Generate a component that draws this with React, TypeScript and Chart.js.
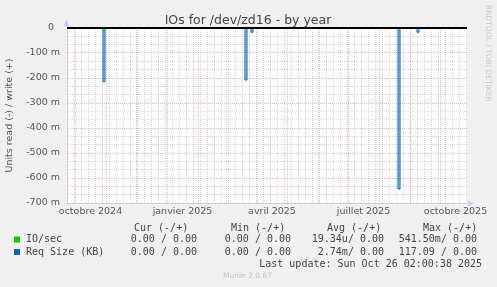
import React, { useEffect, useRef } from 'react';
import { Chart, registerables } from 'chart.js';

Chart.register(...registerables);

// ---- data (x = days since Mon 23 Sep 2024, y = units, negative = read) ----
const ZERO_DAYS = [0, 400];
const ZERO_VALUES = [0, 0];

const REQ_DAYS = [0, 36, 38, 178, 180, 184, 186, 331, 333, 350, 352, 400];
const REQ_READ = [0, -0.215, 0, -0.208, 0, -0.017, 0, -0.644, 0, -0.017, 0, 0];

const IO_DAYS = [0, 36, 38, 400];
const IO_READ = [0, -0.008, 0, 0];

// ---- axis ticks ----
const MONTH_START_DAYS = [8, 39, 69, 100, 131, 159, 190, 220, 251, 281, 312, 343, 373];
const X_LABEL_DAYS = [23.5, 115.5, 205, 296.5, 388.5];
const X_LABELS = ['octobre 2024', 'janvier 2025', 'avril 2025', 'juillet 2025', 'octobre 2025'];
const WEEK_STEP = 7;

const Y_MIN = -0.7;
const Y_MAX = 0;
const Y_MINOR_PER_MAJOR = 3;
const Y_LABELS = ['-700 m', '-600 m', '-500 m', '-400 m', '-300 m', '-200 m', '-100 m', '0  '];

// ---- legend ----
const LEGEND_NAMES = ['IO/sec', 'Req Size (KB)'];
const LEGEND_COLORS = ['#00cc00', '#0066b3'];
const LEGEND_HEADERS = ['Cur (-/+)', 'Min (-/+)', 'Avg (-/+)', 'Max (-/+)'];
const CUR_VALUES = ['0.00 / 0.00', '0.00 / 0.00'];
const MIN_VALUES = ['0.00 / 0.00', '0.00 / 0.00'];
const AVG_VALUES = ['19.34u/ 0.00', '2.74m/ 0.00'];
const MAX_VALUES = ['541.50m/ 0.00', '117.09 / 0.00'];
const LAST_UPDATE = 'Last update: Sun Oct 26 02:00:38 2025';

const TITLE = 'IOs for /dev/zd16 - by year';
const Y_TITLE = 'Units read (-) / write (+)';
const SIDE_TEXT = 'RRDTOOL / TOBI OETIKER';
const FOOTER = 'Munin 2.0.67';

const AXIS_COLOR = '#c4cbf6';
const MAJOR_GRID = 'rgba(225, 90, 90, 0.42)';
const MINOR_GRID = 'rgba(140, 140, 140, 0.35)';
const SANS = 'DejaVu Sans';
const MONO = 'DejaVu Sans Mono';

type XTick = { value: number; kind: 'week' | 'month' | 'label'; label: string };

function buildXTicks(): XTick[] {
  const list: XTick[] = [];
  for (let d = 0; d <= 400; d += WEEK_STEP) list.push({ value: d, kind: 'week', label: '' });
  MONTH_START_DAYS.forEach((d) => list.push({ value: d, kind: 'month', label: '' }));
  X_LABEL_DAYS.forEach((d, i) => list.push({ value: d, kind: 'label', label: X_LABELS[i] }));
  list.sort((a, b) => a.value - b.value);
  return list;
}

function buildYTicks(): number[] {
  const n = Y_LABELS.length - 1;
  const vals: number[] = [];
  for (let i = 0; i <= n * Y_MINOR_PER_MAJOR; i++) {
    vals.push(Y_MIN + (i * (Y_MAX - Y_MIN)) / (n * Y_MINOR_PER_MAJOR));
  }
  return vals;
}

const xy = (xs: number[], ys: number[]) => xs.map((x, i) => ({ x, y: ys[i] }));

export default function App() {
  const ref = useRef<HTMLCanvasElement | null>(null);

  useEffect(() => {
    if (!ref.current) return;
    const xTicks = buildXTicks();
    const yTicks = buildYTicks();

    const decor = {
      id: 'decor',
      beforeDraw(chart: any) {
        const { ctx, chartArea: a } = chart;
        ctx.save();
        ctx.fillStyle = '#ffffff';
        ctx.fillRect(a.left, a.top, a.right - a.left, a.bottom - a.top);
        ctx.restore();
      },
      afterDraw(chart: any) {
        const { ctx, chartArea: a } = chart;
        ctx.save();
        // axis arrows
        ctx.fillStyle = AXIS_COLOR;
        ctx.strokeStyle = AXIS_COLOR;
        ctx.lineWidth = 1;
        ctx.beginPath();
        ctx.moveTo(a.left - 0.5, a.top - 1);
        ctx.lineTo(a.left - 0.5, a.top - 5);
        ctx.moveTo(a.right, a.bottom + 0.5);
        ctx.lineTo(a.right + 3, a.bottom + 0.5);
        ctx.stroke();
        ctx.beginPath();
        ctx.moveTo(a.left - 3.5, a.top - 2);
        ctx.lineTo(a.left + 2.5, a.top - 2);
        ctx.lineTo(a.left - 0.5, a.top - 8);
        ctx.closePath();
        ctx.fill();
        ctx.beginPath();
        ctx.moveTo(a.right + 1, a.bottom - 2.5);
        ctx.lineTo(a.right + 1, a.bottom + 3.5);
        ctx.lineTo(a.right + 7, a.bottom + 0.5);
        ctx.closePath();
        ctx.fill();

        // title
        ctx.fillStyle = '#444';
        ctx.font = `12.5px "${SANS}"`;
        ctx.textAlign = 'center';
        ctx.textBaseline = 'alphabetic';
        ctx.fillText(TITLE, 248, 24);

        // y title
        ctx.save();
        ctx.translate(10, 115.5);
        ctx.rotate(-Math.PI / 2);
        ctx.font = `9.5px "${SANS}"`;
        ctx.fillStyle = '#555';
        ctx.textAlign = 'center';
        ctx.textBaseline = 'middle';
        ctx.fillText(Y_TITLE, 0, 0);
        ctx.restore();

        // side text
        ctx.save();
        ctx.translate(487.5, 5);
        ctx.rotate(Math.PI / 2);
        ctx.font = `7.5px "${SANS}"`;
        ctx.fillStyle = '#c8c8c8';
        ctx.textAlign = 'left';
        ctx.textBaseline = 'middle';
        ctx.fillText(SIDE_TEXT, 0, 0);
        ctx.restore();

        // legend
        ctx.font = `10px "${MONO}"`;
        ctx.fillStyle = '#444';
        ctx.textBaseline = 'middle';
        ctx.textAlign = 'left';
        const headerX = [134, 231, 327, 423];
        LEGEND_HEADERS.forEach((h, i) => ctx.fillText(h, headerX[i], 228));
        const rowY = [239.5, 252];
        const cols = [CUR_VALUES, MIN_VALUES, AVG_VALUES, MAX_VALUES];
        const colRight = [197, 291, 384, 477];
        LEGEND_NAMES.forEach((name, r) => {
          ctx.fillStyle = LEGEND_COLORS[r];
          ctx.fillRect(14, rowY[r] - 3, 6, 6);
          ctx.fillStyle = '#444';
          ctx.textAlign = 'left';
          ctx.fillText(name, 26, rowY[r]);
          ctx.textAlign = 'right';
          cols.forEach((c, ci) => ctx.fillText(c[r], colRight[ci], rowY[r]));
        });
        ctx.textAlign = 'right';
        ctx.fillText(LAST_UPDATE, 482, 264.5);

        // footer
        ctx.font = `7.5px "${SANS}"`;
        ctx.fillStyle = '#c4c4c4';
        ctx.textAlign = 'center';
        ctx.fillText(FOOTER, 247.5, 276);
        ctx.restore();
      },
    };

    const chart = new Chart(ref.current, {
      type: 'line',
      data: {
        datasets: [
          {
            label: 'zero',
            data: xy(ZERO_DAYS, ZERO_VALUES),
            borderColor: '#000000',
            borderWidth: 2,
            pointRadius: 0,
            fill: false,
            clip: false,
            order: -1,
          },
          {
            label: 'IO/sec',
            data: xy(IO_DAYS, IO_READ),
            borderColor: '#00cc00',
            backgroundColor: 'rgba(0,204,0,0.5)',
            borderWidth: 1,
            pointRadius: 0,
            stepped: true,
            fill: 'origin',
          },
          {
            label: 'Req Size (KB)',
            data: xy(REQ_DAYS, REQ_READ),
            borderColor: '#0066b3',
            backgroundColor: 'rgba(0,102,179,0.3)',
            borderWidth: 1,
            pointRadius: 0,
            stepped: true,
            fill: 'origin',
          },
        ],
      },
      options: {
        responsive: false,
        animation: false,
        devicePixelRatio: 1,
        layout: { padding: { left: 0, top: 28, right: 30, bottom: 70 } },
        plugins: {
          legend: { display: false },
          tooltip: { enabled: false },
          title: { display: false },
        },
        scales: {
          x: {
            type: 'linear',
            min: 0,
            max: 400,
            afterBuildTicks: (scale: any) => {
              scale.ticks = xTicks.map((t) => ({ value: t.value }));
            },
            afterFit: (scale: any) => {
              scale.height = 14;
            },
            ticks: {
              autoSkip: false,
              maxRotation: 0,
              minRotation: 0,
              padding: 3,
              color: '#555',
              font: { family: SANS, size: 9.5 },
              callback: (_v: any, i: number) => xTicks[i]?.label ?? '',
            },
            grid: {
              drawTicks: false,
              lineWidth: 1,
              color: (ctx: any) => {
                const t = xTicks[ctx.index];
                if (!t || t.kind === 'label') return 'rgba(0,0,0,0)';
                return t.kind === 'month' ? MAJOR_GRID : MINOR_GRID;
              },
            },
            border: { display: true, color: AXIS_COLOR, width: 1, dash: [1, 1] },
          },
          y: {
            type: 'linear',
            min: Y_MIN,
            max: Y_MAX,
            afterBuildTicks: (scale: any) => {
              scale.ticks = yTicks.map((v) => ({ value: v }));
            },
            afterFit: (scale: any) => {
              scale.width = 67;
            },
            ticks: {
              autoSkip: false,
              padding: 7,
              color: '#555',
              font: { family: SANS, size: 9.5 },
              callback: (_v: any, i: number) =>
                i % Y_MINOR_PER_MAJOR === 0 ? Y_LABELS[i / Y_MINOR_PER_MAJOR] : '',
            },
            grid: {
              drawTicks: false,
              lineWidth: 1,
              color: (ctx: any) => {
                const i = ctx.index;
                if (i === 0 || i === yTicks.length - 1) return 'rgba(0,0,0,0)';
                return i % Y_MINOR_PER_MAJOR === 0 ? MAJOR_GRID : MINOR_GRID;
              },
            },
            border: { display: true, color: AXIS_COLOR, width: 1, dash: [1, 1] },
          },
        },
      } as any,
      plugins: [decor],
    });

    return () => chart.destroy();
  }, []);

  return (
    <div style={{ position: 'absolute', left: 0, top: 0, width: 497, height: 287 }}>
      <canvas
        ref={ref}
        width={497}
        height={287}
        style={{ display: 'block', background: '#f0f0f0' }}
      />
    </div>
  );
}
